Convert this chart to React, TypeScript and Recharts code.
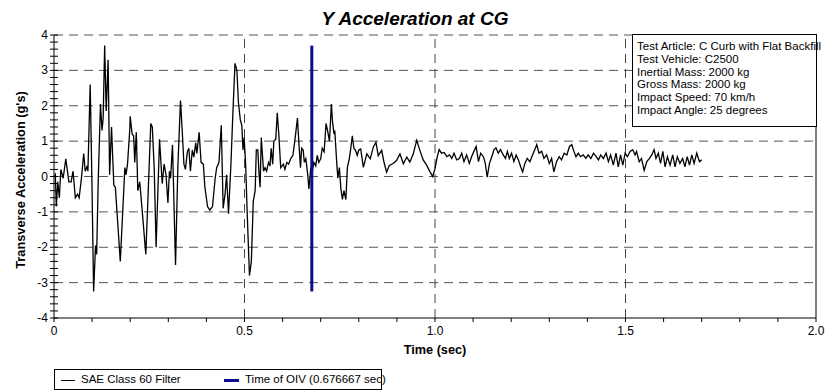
import React from 'react';
import { LineChart, Line, XAxis, YAxis, ReferenceLine } from 'recharts';

// filtered signal, impact phase (sec, g's)
const impactTime = [
  0.001, 0.0035, 0.006, 0.01, 0.014, 0.018, 0.024, 0.031, 0.039, 0.045, 0.05, 0.056, 0.062, 0.066, 0.072,
  0.078, 0.082, 0.087, 0.089, 0.095, 0.0997, 0.104, 0.109, 0.112, 0.116, 0.122, 0.126, 0.129, 0.133, 0.137,
  0.142, 0.146, 0.151, 0.157, 0.161, 0.174, 0.186, 0.189, 0.193, 0.199, 0.2, 0.205, 0.209, 0.212, 0.216,
  0.22, 0.225, 0.231, 0.241, 0.247, 0.254, 0.258, 0.263, 0.268, 0.277, 0.284, 0.289, 0.294, 0.299, 0.303,
  0.306, 0.311, 0.319, 0.325, 0.332, 0.337, 0.341, 0.345, 0.35, 0.354, 0.358, 0.363, 0.367, 0.372, 0.375,
  0.381, 0.386, 0.392, 0.396, 0.403, 0.409, 0.416, 0.423, 0.427, 0.433, 0.439, 0.444, 0.449, 0.453, 0.458,
  0.464, 0.469, 0.475, 0.48, 0.484, 0.489, 0.493, 0.496, 0.499, 0.503, 0.507, 0.513, 0.518, 0.523, 0.528,
  0.531, 0.535, 0.538, 0.541, 0.544, 0.55, 0.554, 0.558, 0.563, 0.567, 0.57, 0.574, 0.577, 0.582, 0.586,
  0.59, 0.595, 0.602, 0.606, 0.611, 0.616, 0.621, 0.627, 0.632, 0.639, 0.643, 0.647, 0.65, 0.654, 0.657,
  0.661, 0.666, 0.669, 0.674, 0.678, 0.682, 0.687, 0.691, 0.695, 0.7, 0.704, 0.709, 0.714, 0.718, 0.723,
  0.728, 0.731, 0.735, 0.737, 0.742, 0.745, 0.749, 0.753, 0.757, 0.761, 0.766, 0.77, 0.775, 0.779, 0.783,
  0.787, 0.791, 0.796, 0.8,
];
const impactAccel = [
  0.0, 0.05, -0.85, -0.15, -0.6, 0.2, -0.05, 0.5, -0.15, -0.15, 0.15, -0.6, -0.5, -0.6, -0.05,
  0.65, 0.15, 0.3, 0.15, 2.6, -0.25, -3.25, -1.95, -2.2, -0.15, 2.05, 1.3, 1.65, 3.7, 1.85,
  3.3, 0.05, 1.4, -0.25, -0.3, -2.4, 0.25, 0.05, 0.35, 1.35, 1.7, 1.2, 1.15, 0.4, 1.25,
  -0.4, -0.15, -0.9, -2.2, -0.5, 1.5, 1.4, 0.25, -2.0, 1.05, -0.2, 0.35, 0.05, -0.75, 0.15,
  -0.05, 0.9, -2.5, 0.25, 2.15, 1.2, 0.35, 0.2, 0.7, 0.8, 0.15, 0.75, 0.55, 0.95, 0.65,
  1.25, 0.4, 0.35, -0.3, -0.85, -0.95, -0.85, -0.05, 0.25, 0.4, 1.45, -0.9, -0.5, 0.05, -1.05,
  0.25, 1.65, 3.2, 3.0, 2.1, 1.6, 1.45, 0.75, 1.1, 0.35, -1.0, -2.8, -2.4, -0.7, -0.4,
  0.75, 0.75, 0.1, -0.3, 1.1, 0.15, 0.25, 0.15, 0.4, 0.3, 0.8, 0.35, 1.0, 1.05, 1.8,
  1.2, 0.25, 0.35, 0.2, 0.4, 0.35, 0.5, 0.6, 1.0, 1.65, 0.9, 0.25, 0.8, 0.75, 0.4,
  0.5, 0.05, -0.35, 0.25, 0.15, 0.4, 0.3, 0.6, 0.4, 0.5, 0.8, 0.7, 1.5, 1.3, 1.0,
  2.05, 1.55, 1.2, 1.3, 0.4, -0.05, 0.25, -0.35, -0.65, -0.4, -0.65, 0.25, 0.5, 0.8, 1.15,
  0.8, 0.75, 0.6, 0.75,
];

// filtered signal, settling phase
const settleTime = [
  0.805, 0.812, 0.821, 0.83, 0.838, 0.845, 0.851, 0.86, 0.866, 0.873, 0.88, 0.889, 0.899, 0.908, 0.917,
  0.926, 0.934, 0.943, 0.952, 0.959, 0.969, 0.978, 0.987, 0.994, 1.0, 1.006, 1.011, 1.017, 1.024, 1.031,
  1.038, 1.044, 1.05, 1.057, 1.064, 1.07, 1.076, 1.083, 1.09, 1.096, 1.102, 1.108, 1.114, 1.12, 1.127,
  1.132, 1.137, 1.143, 1.149, 1.155, 1.16, 1.166, 1.172, 1.179, 1.185, 1.19, 1.195, 1.201, 1.207, 1.213,
  1.219, 1.225, 1.23, 1.236, 1.242, 1.249, 1.256, 1.262, 1.267, 1.273, 1.28, 1.286, 1.293, 1.3, 1.306,
  1.312, 1.319, 1.326, 1.332, 1.339, 1.346, 1.353, 1.359, 1.363, 1.37, 1.376, 1.382, 1.389, 1.396, 1.402,
  1.409, 1.416, 1.423, 1.429, 1.435, 1.442, 1.449, 1.455, 1.461, 1.468, 1.475, 1.481, 1.487, 1.493, 1.499,
  1.505, 1.512, 1.519, 1.525, 1.529, 1.536, 1.542, 1.549, 1.556, 1.563, 1.569, 1.575, 1.58, 1.586, 1.592,
  1.598, 1.604, 1.61, 1.617, 1.624, 1.63, 1.636, 1.643, 1.65, 1.656, 1.662, 1.668, 1.674, 1.68, 1.687,
  1.694, 1.7,
];
const settleAccel = [
  0.78, 0.26, 0.64, 0.5, 0.83, 0.97, 0.59, 0.74, 0.41, 0.12, 0.31, 0.36, 0.45, 0.64, 0.36,
  0.55, 0.41, 0.64, 1.02, 0.78, 0.47, 0.32, 0.13, 0.0, 0.22, 0.56, 0.76, 0.66, 0.68, 0.56,
  0.61, 0.51, 0.66, 0.47, 0.51, 0.66, 0.42, 0.61, 0.37, 0.56, 0.71, 0.85, 0.42, 0.66, 0.56,
  0.37, -0.02, 0.37, 0.56, 0.76, 0.81, 0.66, 0.76, 0.61, 0.51, 0.71, 0.51, 0.66, 0.42, 0.61,
  0.47, 0.27, 0.13, 0.37, 0.51, 0.42, 0.61, 0.76, 0.9, 0.66, 0.71, 0.51, 0.61, 0.37, 0.51,
  0.13, 0.42, 0.56, 0.47, 0.66, 0.61, 0.85, 0.9, 0.76, 0.56, 0.66, 0.56, 0.61, 0.51, 0.61,
  0.51, 0.66, 0.56, 0.47, 0.61, 0.51, 0.66, 0.42, 0.61, 0.32, 0.66, 0.27, 0.61, 0.32, 0.66,
  0.56, 0.71, 0.76, 0.61, 0.71, 0.42, 0.51, 0.17, 0.42, 0.51, 0.61, 0.76, 0.51, 0.66, 0.37,
  0.71, 0.27, 0.56, 0.32, 0.61, 0.27, 0.56, 0.37, 0.51, 0.27, 0.56, 0.32, 0.61, 0.37, 0.66,
  0.42, 0.47,
];

const oivTime = 0.676667;
const oivSpan = [-3.25, 3.7];

const xTicks = [0, 0.1, 0.2, 0.3, 0.4, 0.5, 0.6, 0.7, 0.8, 0.9, 1.0, 1.1, 1.2, 1.3, 1.4, 1.5, 1.6, 1.7, 1.8, 1.9, 2.0];
const xLabelled = [0, 0.5, 1.0, 1.5, 2.0];
const yTicks = [
  -4, -3.8, -3.6, -3.4, -3.2, -3, -2.8, -2.6, -2.4, -2.2, -2, -1.8, -1.6, -1.4, -1.2, -1, -0.8, -0.6, -0.4, -0.2,
  0, 0.2, 0.4, 0.6, 0.8, 1, 1.2, 1.4, 1.6, 1.8, 2, 2.2, 2.4, 2.6, 2.8, 3, 3.2, 3.4, 3.6, 3.8, 4,
];
const yGrid = [-3, -2, -1, 0, 1, 2, 3, 4];
const xGrid = [0.5, 1.0, 1.5];

const infoLines = [
  'Test Article: C Curb with Flat Backfill',
  'Test Vehicle: C2500',
  'Inertial Mass: 2000 kg',
  'Gross Mass: 2000 kg',
  'Impact Speed: 70 km/h',
  'Impact Angle: 25 degrees',
];

const FONT = '"Liberation Sans", Arial, sans-serif';
const OIV_BLUE = '#0c0c8e';

const signal = [
  ...impactTime.map((t, i) => ({ t, g: impactAccel[i] })),
  ...settleTime.map((t, i) => ({ t, g: settleAccel[i] })),
];
const oivLine = oivSpan.map((g) => ({ t: oivTime, g }));

const YTick = (props: any) => {
  const { x, y, payload } = props;
  const v = payload.value;
  const axisX = x + 6;
  return (
    <g>
      <line x1={axisX} x2={axisX + 4} y1={y} y2={y} stroke="#000" />
      {Number.isInteger(v) && (
        <text x={x} y={y} dy={4} textAnchor="end" fontSize={12} fontFamily={FONT} fill="#000">
          {String(v)}
        </text>
      )}
    </g>
  );
};

const fmtX = (v: number) => {
  if (!xLabelled.includes(v)) return '';
  return v === 0 ? '0' : v.toFixed(1);
};

export default function App() {
  return (
    <div style={{ position: 'absolute', left: 0, top: 0, width: 825, height: 392, fontFamily: FONT, background: '#fff' }}>
      <LineChart width={825} height={392} margin={{ top: 35, right: 9, bottom: 73, left: 53 }}>
        {yGrid.map((v) => (
          <ReferenceLine key={'y' + v} y={v} stroke="#555" strokeDasharray="9 6" />
        ))}
        {xGrid.map((v) => (
          <ReferenceLine key={'x' + v} x={v} stroke="#444" strokeDasharray="9 6" />
        ))}
        <ReferenceLine x={2} stroke="#000" />
        <XAxis
          type="number"
          dataKey="t"
          domain={[0, 2]}
          ticks={xTicks}
          tickFormatter={fmtX}
          interval={0}
          height={1}
          tickSize={4}
          tickMargin={4}
          stroke="#000"
          tick={{ fontSize: 12, fontFamily: FONT, fill: '#000' }}
          allowDataOverflow
        />
        <YAxis
          type="number"
          domain={[-4, 4]}
          ticks={yTicks}
          interval={0}
          width={1}
          tickSize={4}
          tickMargin={2}
          stroke="#000"
          tick={<YTick />}
          allowDataOverflow
        />
        <Line
          data={signal}
          dataKey="g"
          type="linear"
          stroke="#000"
          strokeWidth={1.3}
          dot={false}
          isAnimationActive={false}
        />
        <Line
          data={oivLine}
          dataKey="g"
          type="linear"
          stroke={OIV_BLUE}
          strokeWidth={3}
          dot={false}
          isAnimationActive={false}
        />
      </LineChart>

      <div
        style={{
          position: 'absolute', left: 0, top: 9, width: 830, textAlign: 'center',
          fontSize: 19, lineHeight: '19px', fontWeight: 'bold', fontStyle: 'italic',
        }}
      >
        Y Acceleration at CG
      </div>

      <div
        style={{
          position: 'absolute', left: 20, top: 180, transform: 'translate(-50%, -50%) rotate(-90deg)',
          whiteSpace: 'nowrap', fontSize: 12.8, fontWeight: 'bold',
        }}
      >
        Transverse Acceleration (g's)
      </div>

      <div
        style={{
          position: 'absolute', left: 435, top: 350, transform: 'translate(-50%, -50%)',
          whiteSpace: 'nowrap', fontSize: 12.7, fontWeight: 'bold',
        }}
      >
        Time (sec)
      </div>

      <div
        style={{
          position: 'absolute', left: 632, top: 34, width: 183, height: 86, border: '1px solid #000',
          background: '#fff', boxSizing: 'content-box', padding: '5px 0 0 0', fontSize: 11.5, lineHeight: '12.8px',
        }}
      >
        {infoLines.map((s) => (
          <div key={s} style={{ paddingLeft: 4, whiteSpace: 'nowrap' }}>{s}</div>
        ))}
      </div>

      <div
        style={{
          position: 'absolute', left: 54, top: 369, width: 326, height: 19, border: '1px solid #000',
          fontSize: 11.5, lineHeight: '19px', whiteSpace: 'nowrap',
        }}
      >
        <span style={{ position: 'absolute', left: 6, top: 10, width: 14, height: 1, background: '#000' }} />
        <span style={{ position: 'absolute', left: 26 }}>SAE Class 60 Filter</span>
        <span style={{ position: 'absolute', left: 169, top: 9, width: 15, height: 3, background: OIV_BLUE }} />
        <span style={{ position: 'absolute', left: 190 }}>Time of OIV (0.676667 sec)</span>
      </div>
    </div>
  );
}
